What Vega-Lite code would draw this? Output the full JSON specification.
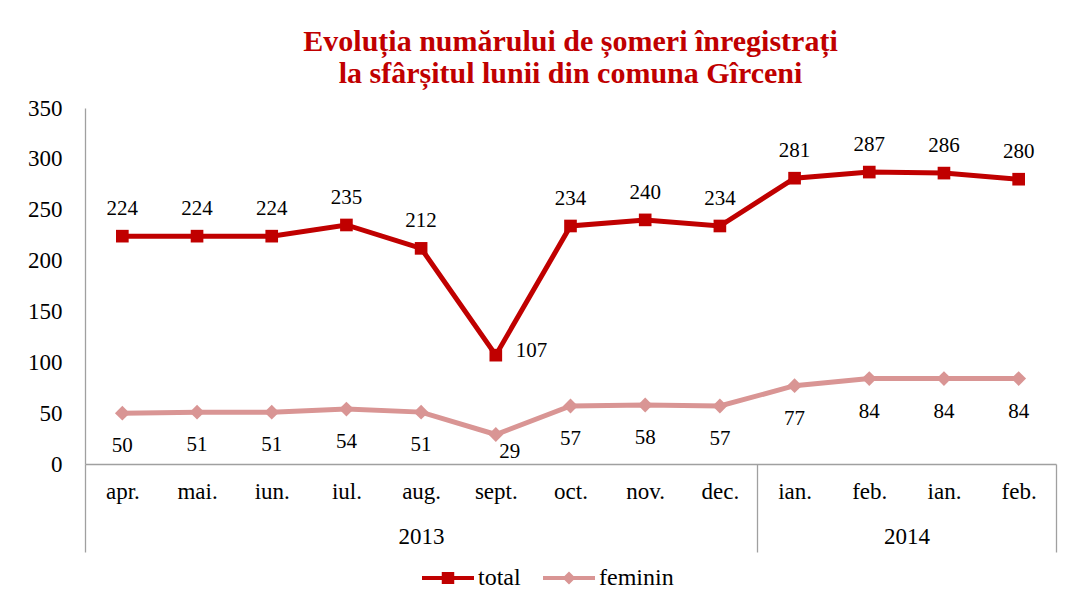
{
  "$schema": "https://vega.github.io/schema/vega-lite/v6.json",
  "autosize": {"type": "none"},
  "width": 971,
  "height": 356,
  "padding": {"left": 85, "top": 108, "right": 18, "bottom": 131},
  "background": "white",
  "config": {
    "font": "Liberation Serif",
    "view": {"stroke": null},
    "axis": {"grid": false, "domainColor": "#a0a0a0", "domainWidth": 1.3, "labelFont": "Liberation Serif", "labelFontSize": 23, "labelColor": "#000000"},
    "legend": {"labelFont": "Liberation Serif", "labelFontSize": 24, "labelColor": "#000000"}
  },
  "title": {
    "text": ["Evoluția numărului de șomeri înregistrați", "la sfârșitul lunii din comuna Gîrceni"],
    "font": "Liberation Serif",
    "fontSize": 30,
    "fontWeight": "bold",
    "color": "#C00000",
    "lineHeight": 32,
    "anchor": "middle",
    "offset": 8
  },
  "data": {
    "values": [
      {"i": 0, "month": "apr.", "year": "2013", "serie": "total", "value": 224},
      {"i": 1, "month": "mai.", "year": "2013", "serie": "total", "value": 224},
      {"i": 2, "month": "iun.", "year": "2013", "serie": "total", "value": 224},
      {"i": 3, "month": "iul.", "year": "2013", "serie": "total", "value": 235},
      {"i": 4, "month": "aug.", "year": "2013", "serie": "total", "value": 212},
      {"i": 5, "month": "sept.", "year": "2013", "serie": "total", "value": 107},
      {"i": 6, "month": "oct.", "year": "2013", "serie": "total", "value": 234},
      {"i": 7, "month": "nov.", "year": "2013", "serie": "total", "value": 240},
      {"i": 8, "month": "dec.", "year": "2013", "serie": "total", "value": 234},
      {"i": 9, "month": "ian.", "year": "2014", "serie": "total", "value": 281},
      {"i": 10, "month": "feb.", "year": "2014", "serie": "total", "value": 287},
      {"i": 11, "month": "ian.", "year": "2014", "serie": "total", "value": 286},
      {"i": 12, "month": "feb.", "year": "2014", "serie": "total", "value": 280},
      {"i": 0, "month": "apr.", "year": "2013", "serie": "feminin", "value": 50},
      {"i": 1, "month": "mai.", "year": "2013", "serie": "feminin", "value": 51},
      {"i": 2, "month": "iun.", "year": "2013", "serie": "feminin", "value": 51},
      {"i": 3, "month": "iul.", "year": "2013", "serie": "feminin", "value": 54},
      {"i": 4, "month": "aug.", "year": "2013", "serie": "feminin", "value": 51},
      {"i": 5, "month": "sept.", "year": "2013", "serie": "feminin", "value": 29},
      {"i": 6, "month": "oct.", "year": "2013", "serie": "feminin", "value": 57},
      {"i": 7, "month": "nov.", "year": "2013", "serie": "feminin", "value": 58},
      {"i": 8, "month": "dec.", "year": "2013", "serie": "feminin", "value": 57},
      {"i": 9, "month": "ian.", "year": "2014", "serie": "feminin", "value": 77},
      {"i": 10, "month": "feb.", "year": "2014", "serie": "feminin", "value": 84},
      {"i": 11, "month": "ian.", "year": "2014", "serie": "feminin", "value": 84},
      {"i": 12, "month": "feb.", "year": "2014", "serie": "feminin", "value": 84}
    ]
  },
  "encoding": {
    "x": {
      "field": "i",
      "type": "quantitative",
      "scale": {"domain": [-0.5, 12.5], "nice": false, "zero": false},
      "axis": {
        "title": null,
        "values": [-0.5, 0, 1, 2, 3, 4, 5, 6, 7, 8, 8.5, 9, 10, 10.5, 11, 12, 12.5],
        "labelExpr": "datum.value == 4 ? ['aug.', '2013'] : datum.value == 10.5 ? ['', '2014'] : datum.value % 1 == 0 ? ['apr.','mai.','iun.','iul.','aug.','sept.','oct.','nov.','dec.','ian.','feb.','ian.','feb.'][datum.value] : ''",
        "ticks": true,
        "tickSize": 88,
        "tickWidth": 1.3,
        "tickColor": {"condition": {"test": "datum.value == -0.5 || datum.value == 8.5 || datum.value == 12.5", "value": "#a0a0a0"}, "value": "transparent"},
        "labelPadding": -72,
        "labelLineHeight": 45,
        "labelBaseline": "top",
        "labelFont": "Liberation Serif",
        "labelFontSize": 23,
        "labelFlush": false,
        "labelOverlap": false,
        "labelBound": false
      }
    },
    "y": {
      "field": "value",
      "type": "quantitative",
      "scale": {"domain": [0, 350], "nice": false},
      "axis": {"title": null, "values": [0, 50, 100, 150, 200, 250, 300, 350], "ticks": false, "labelPadding": 23, "labelFont": "Liberation Serif", "labelFontSize": 23}
    }
  },
  "layer": [
    {
      "mark": {"type": "line", "strokeWidth": 5},
      "encoding": {
        "color": {
          "field": "serie",
          "type": "nominal",
          "scale": {"domain": ["total", "feminin"], "range": ["#C00000", "#D99594"]},
          "legend": {
            "title": null,
            "orient": "none",
            "legendX": 337,
            "legendY": 444,
            "direction": "horizontal",
            "labelFont": "Liberation Serif",
            "labelFontSize": 24,
            "labelColor": "#000000",
            "symbolSize": 2704,
            "symbolOpacity": 1,
            "symbolStrokeWidth": 0,
            "columnPadding": 22,
            "labelOffset": 4
          }
        }
      }
    },
    {
      "mark": {
        "type": "point",
        "filled": true,
        "opacity": 1,
        "shape": {"expr": "datum.serie === 'total' ? 'square' : 'diamond'"},
        "size": {"expr": "datum.serie === 'total' ? 160 : 220"}
      },
      "encoding": {
        "color": {"field": "serie", "type": "nominal"}
      }
    },
    {
      "mark": {"type": "point", "filled": true, "opacity": 0},
      "encoding": {
        "color": {"field": "serie", "type": "nominal"},
        "shape": {
          "field": "serie",
          "type": "nominal",
          "scale": {"domain": ["total", "feminin"], "range": ["M-1,-0.08H1V0.08H-1Z M-0.24,-0.23H0.24V0.23H-0.24Z", "M-1,-0.08H1V0.08H-1Z M0,-0.25L0.25,0L0,0.25L-0.25,0Z"]},
          "legend": {
            "title": null,
            "orient": "none",
            "legendX": 337,
            "legendY": 444,
            "direction": "horizontal",
            "labelFont": "Liberation Serif",
            "labelFontSize": 24,
            "labelColor": "#000000",
            "symbolSize": 2704,
            "symbolOpacity": 1,
            "symbolStrokeWidth": 0,
            "columnPadding": 22,
            "labelOffset": 4
          }
        }
      }
    },
    {
      "transform": [{"filter": "datum.serie === 'total'"}],
      "mark": {
        "type": "text",
        "fontSize": 21,
        "font": "Liberation Serif",
        "baseline": "middle",
        "align": {"expr": "datum.value < 150 ? 'left' : 'center'"},
        "dx": {"expr": "datum.value < 150 ? 20 : 0"},
        "dy": {"expr": "datum.value < 150 ? -4 : -27"}
      },
      "encoding": {"text": {"field": "value", "type": "quantitative"}, "color": {"value": "#000000"}}
    },
    {
      "transform": [{"filter": "datum.serie === 'feminin'"}],
      "mark": {
        "type": "text",
        "fontSize": 21,
        "font": "Liberation Serif",
        "baseline": "middle",
        "dx": {"expr": "datum.value < 40 ? 14 : 0"},
        "dy": {"expr": "datum.value < 40 ? 17 : 33"}
      },
      "encoding": {"text": {"field": "value", "type": "quantitative"}, "color": {"value": "#000000"}}
    }
  ]
}
